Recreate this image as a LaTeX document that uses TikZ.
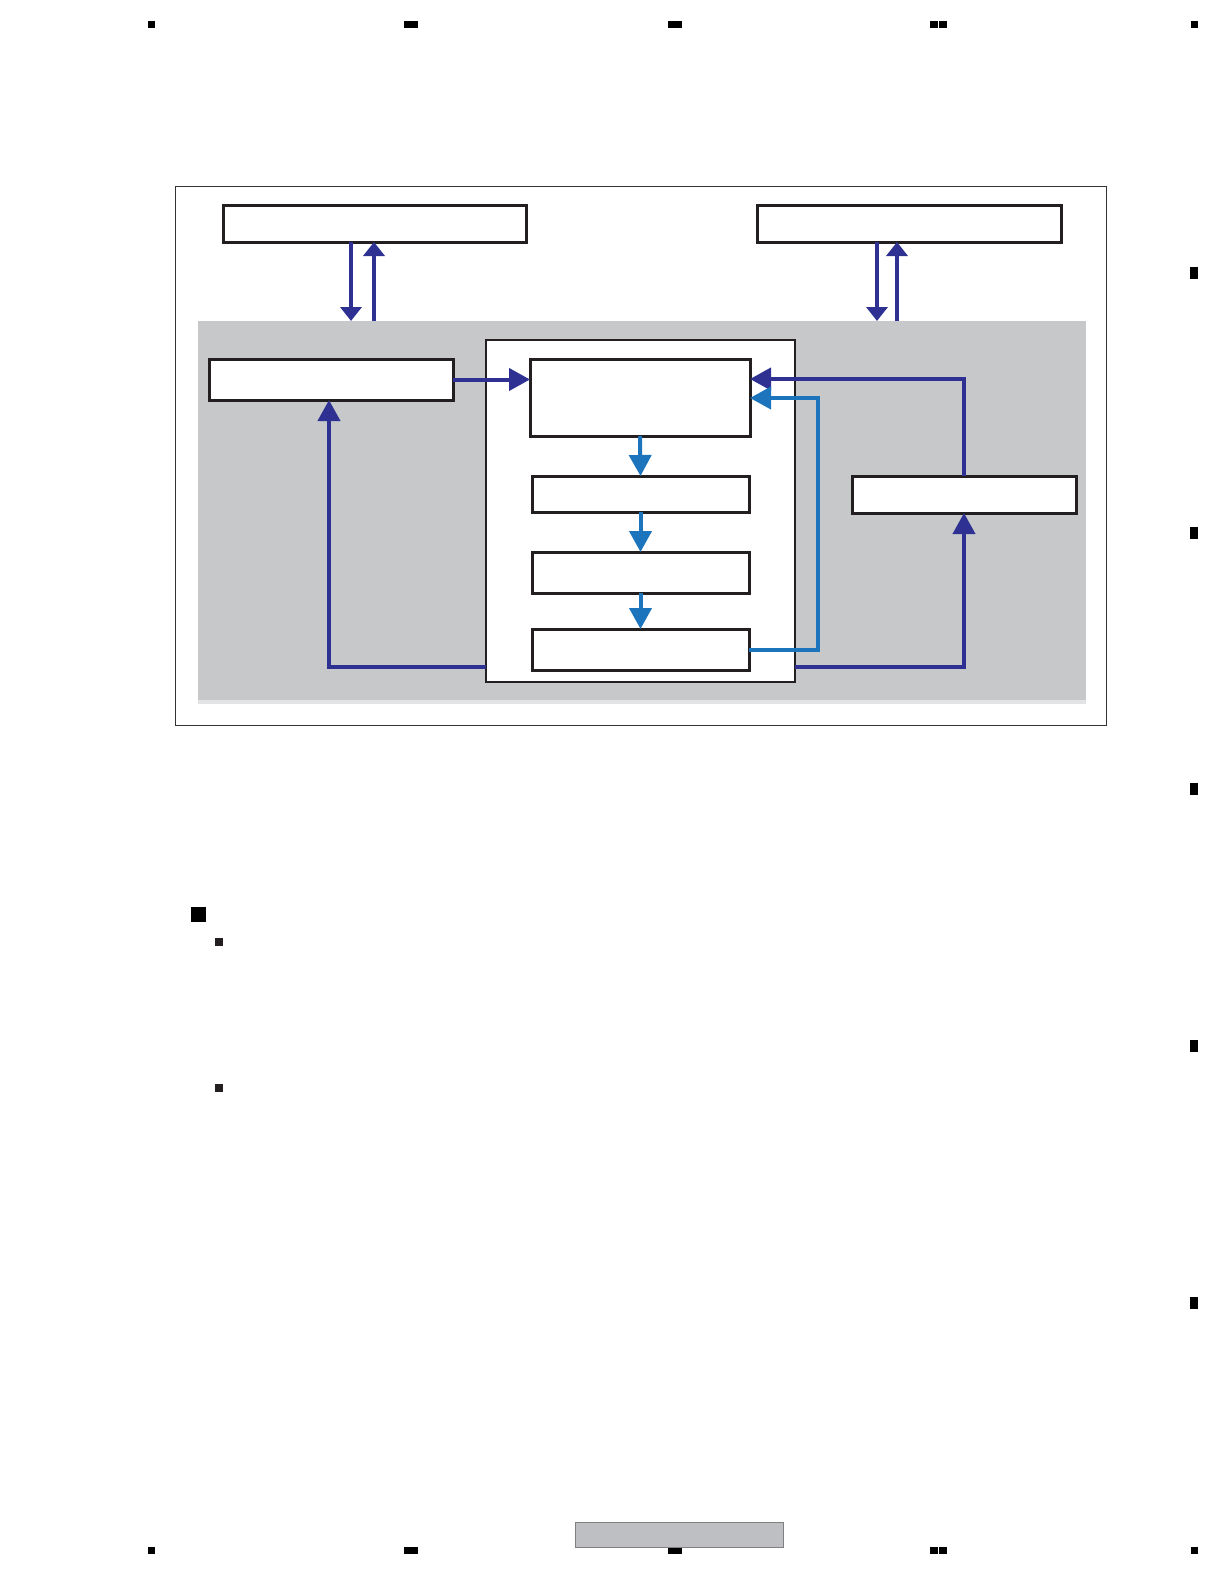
\documentclass[tikz,border=0pt]{standalone}
\usetikzlibrary{arrows.meta}
\definecolor{dkblue}{HTML}{2E3192}
\definecolor{ltblue}{HTML}{1C75BC}
\definecolor{panelgray}{HTML}{C6C8CA}
\definecolor{bargray}{HTML}{BEBFC3}
\definecolor{edgeblack}{HTML}{231F20}
\begin{document}
\begin{tikzpicture}[x=1pt,y=-1pt,
  box/.style={draw=edgeblack,fill=white,line width=3pt,inner sep=0pt,outer sep=0pt,anchor=north west},
  dk/.style={draw=dkblue,line width=4pt},
  lt/.style={draw=ltblue,line width=4pt},
  tipL/.style={-{Triangle[length=21pt,width=22pt]}},
  tipS/.style={-{Triangle[length=14pt,width=21pt]}},
  pagemark/.style={fill=black,draw=none},
]
\useasboundingbox (0,0) rectangle (1224,1584);

% outer frame and grey panel
\node[draw=black!80,line width=1.3pt,inner sep=0pt,outer sep=0pt,anchor=north west,
      minimum width=931pt,minimum height=539pt] (frame) at (175.5,186.5) {};
\node[fill=panelgray,draw=none,inner sep=0pt,outer sep=0pt,anchor=north west,
      minimum width=888pt,minimum height=381pt] (panel) at (198,321) {};
\fill[white!50!panelgray] (198,700) rectangle (1086,704);

% top boxes
\node[box,minimum width=303pt,minimum height=37pt] (tl) at (223,205) {};
\node[box,minimum width=304pt,minimum height=37pt] (tr) at (757,205) {};

% inner boxes
\node[box,minimum width=244pt,minimum height=41pt] (lb) at (209,359) {};
\node[box,line width=2.4pt,minimum width=309pt,minimum height=342pt] (cp) at (486,340) {};
\node[box,minimum width=220pt,minimum height=77pt] (A) at (530,359) {};
\node[box,minimum width=217pt,minimum height=36pt] (B) at (532,476) {};
\node[box,minimum width=217pt,minimum height=41pt] (C) at (532,552) {};
\node[box,minimum width=217pt,minimum height=41pt] (D) at (532,629) {};
\node[box,minimum width=224pt,minimum height=37pt] (rb) at (852,476) {};

% helper coordinates
\coordinate (xa) at (351,0);
\coordinate (xb) at (374,0);
\coordinate (xc) at (877,0);
\coordinate (xd) at (897,0);
\coordinate (xl) at (818,0);
\coordinate (xf) at (329,0);
\coordinate (y1) at (0,379);
\coordinate (y2) at (0,398);
\coordinate (y3) at (0,667);

% top arrows
\draw[dk,tipS] (tl.south -| xa) -- (panel.north -| xa);
\draw[dk,tipS] (panel.north -| xb) -- (tl.south -| xb);
\draw[dk,tipS] (tr.south -| xc) -- (panel.north -| xc);
\draw[dk,tipS] (panel.north -| xd) -- (tr.south -| xd);

% left box to A
\draw[dk,tipL] (lb.east) -- (lb.east -| A.west);
% right box to A
\draw[dk,tipL] (rb.north) -- (rb.north |- y1) -- (A.east |- y1);
% D back to A
\draw[lt,tipL] (D.east) -- (D.east -| xl) -- (xl |- y2) -- (A.east |- y2);
% chain
\draw[lt,tipL] (A.south) -- (B.north);
\draw[lt,tipL] (B.south) -- (C.north);
\draw[lt,tipL] (C.south) -- (D.north);
% feedback from centre panel
\draw[dk,tipL] (cp.west |- y3) -- (xf |- y3) -- (xf |- lb.south);
\draw[dk,tipL] (cp.east |- y3) -- (rb.south |- y3) -- (rb.south);

% page marks top
\fill[pagemark] (148,21) rectangle (155,28);
\fill[pagemark] (404,21) rectangle (418,28);
\fill[pagemark] (668,21) rectangle (682,28);
\fill[pagemark] (930,21) rectangle (938,28);
\fill[pagemark] (939,21) rectangle (947,28);
\fill[pagemark] (1191,21) rectangle (1198,28);
% page marks bottom
\fill[pagemark] (148,1547) rectangle (155,1554);
\fill[pagemark] (404,1547) rectangle (418,1554);
\fill[pagemark] (668,1547) rectangle (682,1554);
\fill[pagemark] (930,1547) rectangle (938,1554);
\fill[pagemark] (939,1547) rectangle (947,1554);
\fill[pagemark] (1191,1547) rectangle (1198,1554);
% page marks right
\fill[pagemark] (1190,267) rectangle (1198,279);
\fill[pagemark] (1190,527) rectangle (1198,539);
\fill[pagemark] (1190,783) rectangle (1198,795);
\fill[pagemark] (1190,1040) rectangle (1198,1052);
\fill[pagemark] (1190,1297) rectangle (1198,1309);
% bullets
\fill[pagemark] (191,907) rectangle (206,922);
\fill[edgeblack] (215,938) rectangle (223,946);
\fill[edgeblack] (215,1084) rectangle (223,1092);
% footer bar
\node[fill=bargray,draw=black!50,line width=1pt,inner sep=0pt,outer sep=0pt,anchor=north west,
      minimum width=208pt,minimum height=25pt] (footer) at (575,1522) {};
\end{tikzpicture}
\end{document}
